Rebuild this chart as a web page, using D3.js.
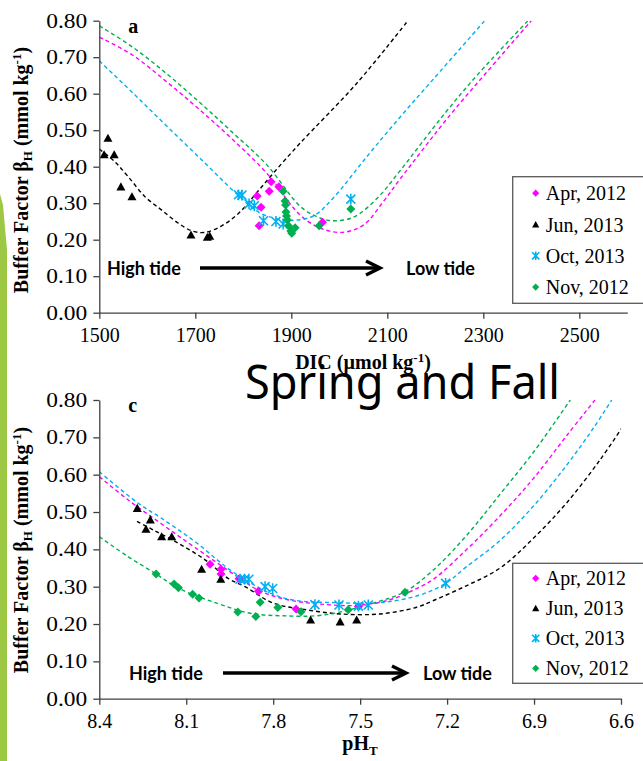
<!DOCTYPE html>
<html>
<head>
<meta charset="utf-8">
<script src="https://cdn.jsdelivr.net/npm/d3@7"></script>
<style>
  body { margin: 0; background: #fff; }
</style>
</head>
<body>
<svg id="chart" width="643" height="761"></svg>
<script>
// series info, shared by both panels
const seriesNames = ["Apr, 2012", "Jun, 2013", "Oct, 2013", "Nov, 2012"];
const seriesColors = ["#ff00ff", "#000000", "#00b0f0", "#00b050"];
const seriesShapes = ["diamond", "triangle", "star", "diamond"];

const yTicks = [0, 0.1, 0.2, 0.3, 0.4, 0.5, 0.6, 0.7, 0.8];
const dicTicks = [1500, 1700, 1900, 2100, 2300, 2500];
const phTicks = [8.4, 8.1, 7.8, 7.5, 7.2, 6.9, 6.6];

// panel a : buffer factor vs DIC
const aprDIC = [1829, 1837, 1833, 1858, 1854, 1874, 1965];
const aprBetaA = [0.320, 0.289, 0.238, 0.359, 0.333, 0.345, 0.248];
const junDIC = [1510, 1518, 1531, 1545, 1568, 1691, 1725, 1730];
const junBetaA = [0.433, 0.478, 0.433, 0.345, 0.318, 0.213, 0.207, 0.210];
const octDIC = [1790, 1797, 1812, 1823, 1842, 1868, 1883, 2024];
const octBetaA = [0.323, 0.322, 0.298, 0.293, 0.252, 0.250, 0.243, 0.311];
const novDIC = [1883, 1887, 1888, 1889, 1890, 1892, 1894, 1899, 1908, 1901, 1958, 2024];
const novBetaA = [0.333, 0.306, 0.295, 0.276, 0.265, 0.254, 0.238, 0.224, 0.233, 0.218, 0.238, 0.284];

// fitted curves of panel a, [DIC, beta]
const aprFitA = [[1500, 0.755], [1569, 0.706], [1640, 0.633], [1710, 0.555], [1779, 0.473], [1849, 0.382],
  [1918, 0.268], [1960, 0.232], [2005, 0.220], [2050, 0.240], [2092, 0.305], [2126, 0.365], [2231, 0.542],
  [2300, 0.648], [2400, 0.80]];
const junFitA = [[1500, 0.448], [1532, 0.414], [1560, 0.373], [1595, 0.318], [1630, 0.281], [1665, 0.245],
  [1693, 0.224], [1720, 0.220], [1755, 0.238], [1790, 0.272], [1830, 0.332], [1865, 0.386], [1918, 0.464],
  [2036, 0.628], [2143, 0.80]];
const octFitA = [[1500, 0.690], [1570, 0.602], [1640, 0.512], [1720, 0.410], [1789, 0.322], [1835, 0.273],
  [1880, 0.255], [1920, 0.255], [1950, 0.268], [1990, 0.318], [2057, 0.427], [2126, 0.535], [2196, 0.640],
  [2303, 0.80]];
const novFitA = [[1500, 0.786], [1569, 0.728], [1640, 0.655], [1710, 0.575], [1779, 0.492], [1849, 0.405],
  [1918, 0.292], [1950, 0.265], [1985, 0.252], [2030, 0.262], [2080, 0.315], [2120, 0.378], [2221, 0.548],
  [2290, 0.655], [2393, 0.80]];

// panel c : buffer factor vs pH
const aprPH = [8.018, 7.980, 7.980, 7.918, 7.851, 7.721, 7.506];
const aprBetaC = [0.360, 0.347, 0.334, 0.321, 0.288, 0.240, 0.247];
const junPH = [8.269, 8.224, 8.239, 8.185, 8.150, 8.047, 7.981, 7.671, 7.569, 7.512];
const junBetaC = [0.510, 0.479, 0.454, 0.434, 0.434, 0.347, 0.320, 0.211, 0.206, 0.211];
const octPH = [7.914, 7.899, 7.884, 7.828, 7.802, 7.656, 7.573, 7.506, 7.472, 7.205];
const octBetaC = [0.320, 0.320, 0.320, 0.300, 0.295, 0.252, 0.251, 0.248, 0.251, 0.309];
const novPH = [8.204, 8.142, 8.127, 8.078, 8.056, 7.922, 7.860, 7.845, 7.784, 7.704, 7.541, 7.345];
const novBetaC = [0.334, 0.307, 0.297, 0.280, 0.270, 0.232, 0.220, 0.258, 0.244, 0.233, 0.238, 0.285];

// fitted curves of panel c, [pH, beta]
const aprFitC = [[8.4, 0.595], [8.30, 0.532], [8.185, 0.468], [8.07, 0.405], [7.92, 0.325], [7.85, 0.290],
  [7.75, 0.265], [7.615, 0.252], [7.512, 0.250], [7.397, 0.265], [7.305, 0.295], [7.247, 0.320],
  [7.132, 0.400], [7.017, 0.490], [6.902, 0.590], [6.787, 0.705], [6.69, 0.80]];
const junFitC = [[8.27, 0.475], [8.214, 0.452], [8.127, 0.416], [8.035, 0.372], [7.955, 0.322], [7.897, 0.300],
  [7.80, 0.256], [7.684, 0.238], [7.569, 0.227], [7.431, 0.227], [7.305, 0.245], [7.247, 0.263],
  [7.132, 0.303], [7.017, 0.350], [6.902, 0.430], [6.787, 0.525], [6.672, 0.640], [6.598, 0.724]];
const octFitC = [[8.4, 0.608], [8.265, 0.523], [8.185, 0.483], [8.07, 0.421], [7.932, 0.336], [7.765, 0.270],
  [7.569, 0.257], [7.431, 0.257], [7.293, 0.278], [7.205, 0.309], [7.132, 0.354], [7.017, 0.424],
  [6.902, 0.516], [6.787, 0.626], [6.695, 0.725], [6.632, 0.80]];
const novFitC = [[8.4, 0.434], [8.30, 0.380], [8.208, 0.336], [8.127, 0.296], [7.995, 0.256], [7.88, 0.229],
  [7.765, 0.222], [7.627, 0.224], [7.455, 0.256], [7.345, 0.287], [7.247, 0.345], [7.132, 0.438],
  [7.017, 0.548], [6.902, 0.660], [6.775, 0.80]];

const serif = "'Liberation Serif', 'Times New Roman', serif";
const sans = "Lato, 'Open Sans', sans-serif";

const svg = d3.select("#chart");

// green slide decoration on the left
svg.append("path")
  .attr("d", "M0,194 L3,205 L7,250 L7,761 L0,761 Z")
  .attr("fill", "#9dc843");

function markerPath(shape, s) {
  if (shape === "diamond") return `M0,${-s}L${s},0L0,${s}L${-s},0Z`;
  if (shape === "triangle") return `M0,${-s}L${s},${s * 0.8}L${-s},${s * 0.8}Z`;
  return `M${-s},${-s}L${s},${s}M${s},${-s}L${-s},${s}M0,${-s * 1.2}L0,${s * 1.2}`;
}

function drawMarker(g, shape, color, s) {
  const m = g.append("path").attr("d", markerPath(shape, s));
  if (shape === "star") {
    m.attr("fill", "none").attr("stroke", color).attr("stroke-width", 1.6);
  } else {
    m.attr("fill", color);
  }
  return m;
}

function drawPanel(p) {
  const g = svg.append("g");
  const [x0, x1] = p.x.range();
  const [yb, yt] = p.y.range();

  const clipId = "clip-" + p.id;
  svg.append("clipPath").attr("id", clipId)
    .append("rect").attr("x", x0).attr("y", yt).attr("width", x1 - x0).attr("height", yb - yt);

  //fitted curves
  const line = d3.line()
    .x((d) => p.x(d[0]))
    .y((d) => p.y(d[1]))
    .curve(d3.curveCatmullRom.alpha(0.5));

  p.fits.forEach((fit, i) => {
    g.append("path")
      .datum(fit)
      .attr("fill", "none")
      .attr("stroke", seriesColors[i])
      .attr("stroke-width", 1.4)
      .attr("stroke-dasharray", "4,3")
      .attr("clip-path", `url(#${clipId})`)
      .attr("d", line);
  });

  //data points
  p.series.forEach((s, i) => {
    s.xs.forEach((xv, j) => {
      drawMarker(g, seriesShapes[i], seriesColors[i], 4.5)
        .attr("transform", `translate(${p.x(xv)},${p.y(s.ys[j])})`);
    });
  });

  //y axis, labels are drawn a little wide like in the slide
  g.append("g")
    .attr("transform", `translate(${x0},0)`)
    .call(d3.axisLeft(p.y).tickValues(yTicks).tickFormat(d3.format(".2f"))
      .tickSize(6).tickSizeOuter(0).tickPadding(6))
    .call((a) => a.selectAll("text")
      .style("font-size", "20px").style("font-family", serif).attr("fill", "#000")
      .attr("textLength", 41).attr("lengthAdjust", "spacingAndGlyphs"))
    .call((a) => a.selectAll("line, path").attr("stroke", "#404040").attr("stroke-width", 1.3));

  //x axis
  g.append("g")
    .attr("transform", `translate(0,${yb})`)
    .call(d3.axisBottom(p.x).tickValues(p.xTicks).tickFormat(p.xFormat)
      .tickSize(6).tickSizeOuter(0).tickPadding(9))
    .call((a) => a.selectAll("text").style("font-size", "20px").style("font-family", serif).attr("fill", "#000"))
    .call((a) => a.selectAll("line, path").attr("stroke", "#404040").attr("stroke-width", 1.3));

  //y axis title
  const yt0 = g.append("text")
    .attr("transform", `translate(28,${p.yTitleY}) rotate(-90)`)
    .attr("text-anchor", "middle")
    .style("font-family", serif)
    .style("font-weight", "bold")
    .style("font-size", "20px");
  yt0.append("tspan").text("Buffer Factor β");
  yt0.append("tspan").attr("dy", 4).style("font-size", "13px").text("H");
  yt0.append("tspan").attr("dy", -4).text(" (mmol kg");
  yt0.append("tspan").attr("dy", -7).style("font-size", "13px").text("-1");
  yt0.append("tspan").attr("dy", 7).text(")");

  //panel letter
  g.append("text")
    .attr("x", x0 + 29)
    .attr("y", yt + 12)
    .style("font-family", serif)
    .style("font-weight", "bold")
    .style("font-size", "20px")
    .text(p.letter);

  //legend
  const lg = g.append("g");
  lg.append("rect")
    .attr("x", p.legend.x)
    .attr("y", p.legend.y)
    .attr("width", 140)
    .attr("height", p.legend.h)
    .attr("fill", "#fff")
    .attr("stroke", "#595959")
    .attr("stroke-width", 1.3);
  seriesNames.forEach((name, i) => {
    const cy = p.legend.y + p.legend.first + i * p.legend.step;
    drawMarker(lg, seriesShapes[i], seriesColors[i], 3.6)
      .attr("transform", `translate(${p.legend.x + 23},${cy})`);
    lg.append("text")
      .attr("x", p.legend.x + 33)
      .attr("y", cy + 7)
      .style("font-family", serif)
      .style("font-size", "20px")
      .text(name);
  });

  //tide annotation
  const ty = p.tide.y;
  g.append("text").attr("x", p.tide.high).attr("y", ty + 6.5)
    .style("font-family", sans).style("font-weight", "bold").style("font-size", "18px")
    .text("High tide");
  g.append("line")
    .attr("x1", p.tide.a0).attr("x2", p.tide.a1)
    .attr("y1", ty).attr("y2", ty)
    .attr("stroke", "#000").attr("stroke-width", 3.5);
  g.append("path")
    .attr("d", `M${p.tide.a1 - 14},${ty - 7}L${p.tide.a1},${ty}L${p.tide.a1 - 14},${ty + 7}`)
    .attr("fill", "none").attr("stroke", "#000").attr("stroke-width", 3.5);
  g.append("text").attr("x", p.tide.low).attr("y", ty + 6.5)
    .style("font-family", sans).style("font-weight", "bold").style("font-size", "18px")
    .text("Low tide");
}

const xA = d3.scaleLinear().domain([1500, 2600]).range([99.3, 627.3]);
const yA = d3.scaleLinear().domain([0, 0.8]).range([312.7, 20.7]);
const xC = d3.scaleLinear().domain([8.4, 6.6]).range([99.3, 621]);
const yC = d3.scaleLinear().domain([0, 0.8]).range([698.7, 400]);

drawPanel({
  id: "a", x: xA, y: yA, xTicks: dicTicks, xFormat: d3.format("d"), letter: "a", yTitleY: 170,
  series: [
    { xs: aprDIC, ys: aprBetaA }, { xs: junDIC, ys: junBetaA },
    { xs: octDIC, ys: octBetaA }, { xs: novDIC, ys: novBetaA }
  ],
  fits: [aprFitA, junFitA, octFitA, novFitA],
  legend: { x: 512.7, y: 176.7, h: 126.6, first: 16.5, step: 31.3 },
  tide: { y: 268, high: 107, a0: 200, a1: 380, low: 406 }
});

drawPanel({
  id: "c", x: xC, y: yC, xTicks: phTicks, xFormat: d3.format(".1f"), letter: "c", yTitleY: 550,
  series: [
    { xs: aprPH, ys: aprBetaC }, { xs: junPH, ys: junBetaC },
    { xs: octPH, ys: octBetaC }, { xs: novPH, ys: novBetaC }
  ],
  fits: [aprFitC, junFitC, octFitC, novFitC],
  legend: { x: 512.7, y: 563.3, h: 120, first: 15, step: 30 },
  tide: { y: 673, high: 129, a0: 223, a1: 406, low: 423 }
});

// axis titles under the panels
const dic = svg.append("text")
  .attr("x", 363).attr("y", 369)
  .attr("text-anchor", "middle")
  .style("font-family", serif).style("font-weight", "bold").style("font-size", "20px");
dic.append("tspan").text("DIC (µmol kg");
dic.append("tspan").attr("dy", -7).style("font-size", "13px").text("-1");
dic.append("tspan").attr("dy", 7).text(")");

const ph = svg.append("text")
  .attr("x", 360).attr("y", 750)
  .attr("text-anchor", "middle")
  .style("font-family", serif).style("font-weight", "bold").style("font-size", "20px");
ph.append("tspan").text("pH");
ph.append("tspan").attr("dy", 5).style("font-size", "13px").text("T");

// slide title
svg.append("text")
  .attr("x", 245).attr("y", 399)
  .attr("textLength", 315)
  .attr("lengthAdjust", "spacingAndGlyphs")
  .style("font-family", "'Noto Sans', 'Open Sans', sans-serif")
  .style("font-size", "47px")
  .text("Spring and Fall");
</script>
</body>
</html>
